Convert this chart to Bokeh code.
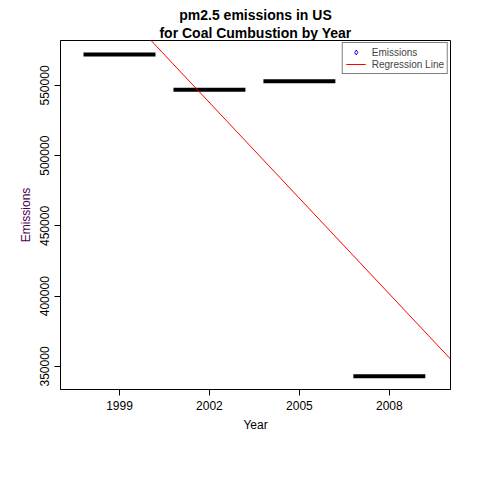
from bokeh.plotting import figure
from bokeh.models import Range1d, FixedTicker, Title, Legend, LegendItem
from bokeh.embed import file_html
from bokeh.resources import INLINE
import numpy as np

years = ["1999", "2002", "2005", "2008"]
emissions = [572000, 547000, 553000, 343000]
yticks = [350000, 400000, 450000, 500000, 550000]

idx = np.arange(1, len(years) + 1)
slope, intercept = np.polyfit(idx, emissions, 1)

p = figure(width=472, height=464, output_backend="svg", toolbar_location=None,
           x_range=Range1d(0.344, 4.68), y_range=Range1d(333600, 582000),
           min_border_left=60, min_border_right=22, min_border_top=40, min_border_bottom=65)
p.frame_width = 390
p.frame_height = 349
p.grid.visible = False
p.outline_line_color = "black"
p.background_fill_color = "white"

F = "Liberation Sans"
p.xaxis.ticker = FixedTicker(ticks=list(idx))
p.xaxis.major_label_overrides = {int(i): y for i, y in zip(idx, years)}
p.yaxis.ticker = FixedTicker(ticks=yticks)
p.yaxis.major_label_overrides = {t: str(t) for t in yticks}
p.yaxis.major_label_orientation = "vertical"
for ax in (p.xaxis[0], p.yaxis[0]):
    ax.major_label_text_font = F
    ax.major_label_text_font_size = "12px"
    ax.major_label_text_color = "black"
    ax.axis_label_text_font = F
    ax.axis_label_text_font_size = "12px"
    ax.axis_label_text_font_style = "normal"
    ax.axis_label_text_color = "black"
    ax.minor_tick_line_color = None
    ax.major_tick_out = 6
    ax.major_tick_in = 0
    ax.axis_line_color = "black"
p.xaxis.axis_label = "Year"
p.yaxis.axis_label = "Emissions"
p.yaxis.axis_label_text_color = "#4b0052"

p.segment(x0=idx - 0.4, x1=idx + 0.4, y0=emissions, y1=emissions, line_color="black", line_width=4)
xs = np.array([0.344, 4.68])
p.line(xs, intercept + slope * xs, line_color="red", line_width=1)

d = p.scatter([np.nan], [np.nan], marker="diamond", fill_color=None, line_color="blue", size=9)
l = p.line([np.nan, np.nan], [np.nan, np.nan], line_color="red")
leg = Legend(items=[LegendItem(label="Emissions", renderers=[d]),
                    LegendItem(label="Regression Line", renderers=[l])],
             location="top_right", label_text_font=F, label_text_font_size="10px",
             border_line_color="black", spacing=0, padding=3, margin=2,
             label_height=12, glyph_height=12, glyph_width=20, label_standoff=6)
p.add_layout(leg)

p.add_layout(Title(text="for Coal Cumbustion by Year", align="center", text_font=F,
                   text_font_size="14px", text_font_style="bold", text_color="black",
                   standoff=0), "above")
p.add_layout(Title(text="pm2.5 emissions in US", align="center", text_font=F,
                   text_font_size="14px", text_font_style="bold", text_color="black",
                   standoff=0), "above")

open("out.html", "w").write(file_html(p, INLINE))
